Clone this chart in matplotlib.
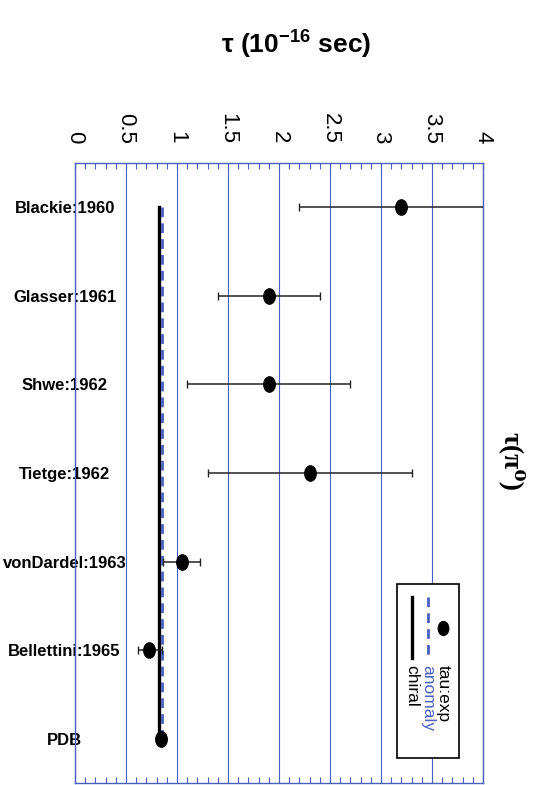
import numpy as np
import matplotlib
matplotlib.use("Agg")
import matplotlib.pyplot as plt
from matplotlib.path import Path
from matplotlib.transforms import Affine2D
from matplotlib.lines import Line2D
from matplotlib.patches import Rectangle

# measurements of the pi0 lifetime, in 10^-16 s
experiments = ['Blackie:1960', 'Glasser:1961', 'Shwe:1962', 'Tietge:1962',
               'vonDardel:1963', 'Bellettini:1965', 'PDB']
tau = [3.2, 1.9, 1.9, 2.3, 1.05, 0.73, 0.84]
err_lo = [1.0, 0.5, 0.8, 1.0, 0.19, 0.11, 0.02]
err_hi = [1.2, 0.5, 0.8, 1.0, 0.18, 0.12, 0.02]

# theory predictions
tau_anomaly = 0.85
tau_chiral = 0.82

xticks = [0, 0.5, 1, 1.5, 2, 2.5, 3, 3.5, 4]
xticklabels = ['0', '0.5', '1', '1.5', '2', '2.5', '3', '3.5', '4']

blue = '#4b5fbf'
sans = ['Liberation Sans', 'DejaVu Sans']

plt.rcParams['mathtext.fontset'] = 'custom'
for k in ('rm', 'it', 'bf'):
    plt.rcParams['mathtext.' + k] = 'Liberation Sans:bold'

W, H = 544, 785


def px(x, y):
    return x / W, 1 - y / H


# slightly tall ellipse marker, like the reference
ellipse = Path.unit_circle().transformed(Affine2D().scale(0.75, 1.0))

fig = plt.figure(figsize=(W / 100, H / 100), dpi=100)
ax = fig.add_axes([75 / W, 2 / H, 408 / W, 620 / H])

ypos = np.arange(len(experiments))

ax.plot([tau_chiral] * len(ypos), ypos, color='black', lw=2.4, zorder=2)
ax.plot([tau_anomaly] * len(ypos), ypos, color=blue, lw=2.0,
        dashes=(3.5, 2.2), zorder=3)

ax.errorbar(tau, ypos, xerr=[err_lo, err_hi], fmt='none', ecolor='#222222',
            elinewidth=1.1, capsize=2.6, capthick=1.0, zorder=4)
ax.plot(tau, ypos, ls='none', marker=ellipse, ms=11, color='black', zorder=5)

ax.set_xlim(0, 4)
ax.set_ylim(len(experiments) - 0.5, -0.5)

ax.set_xticks(xticks)
ax.set_xticks(np.arange(0, 4.01, 0.1), minor=True)
ax.set_xticklabels(xticklabels, rotation=-90, fontsize=16, family=sans)
ax.xaxis.set_ticks_position('both')
ax.tick_params(axis='x', which='both', direction='in', color=blue,
               labeltop=True, labelbottom=False, length=4.5, width=0.8,
               pad=14)

ax.set_yticks(ypos)
ax.set_yticklabels(experiments, fontsize=12, fontweight='bold', family=sans,
                   ha='center')
ax.tick_params(axis='y', length=0, pad=7.5)

ax.grid(axis='x', which='major', color=blue, lw=0.8)
for s in ax.spines.values():
    s.set_color(blue)
    s.set_linewidth(1.0)

fig.text(*px(296, 45), 'τ (10$^{-16}$ sec)', fontsize=19, fontweight='bold',
         family=sans, ha='center', va='center')
fig.text(*px(512, 462), 'τ(π⁰)', fontsize=20, fontweight='bold',
         family=['Liberation Serif', 'DejaVu Serif'], rotation=-90,
         ha='center', va='center')

# legend, drawn rotated like the rest of the figure
x0, y0 = px(397, 758)
fig.add_artist(Rectangle((x0, y0), 62 / W, 174 / H, transform=fig.transFigure,
                         facecolor='white', edgecolor='black', lw=1.2,
                         zorder=1))
fig.add_artist(Line2D(*zip(px(443, 628)), marker=ellipse, ms=10,
                      color='black', ls='none', transform=fig.transFigure,
                      zorder=2))
fig.add_artist(Line2D(*zip(px(428, 597), px(428, 658)), color=blue, lw=2.0,
                      dashes=(3.5, 2.2), transform=fig.transFigure, zorder=2))
fig.add_artist(Line2D(*zip(px(412, 597), px(412, 658)), color='black', lw=2.4,
                      transform=fig.transFigure, zorder=2))
for xl, lab, c in [(443, 'tau:exp', 'black'), (428, 'anomaly', blue),
                   (412, 'chiral', 'black')]:
    fig.text(*px(xl, 665), lab, fontsize=12.5, color=c, rotation=-90,
             family=sans, ha='center', va='top', zorder=3)

fig.savefig('out.png', dpi=100)
